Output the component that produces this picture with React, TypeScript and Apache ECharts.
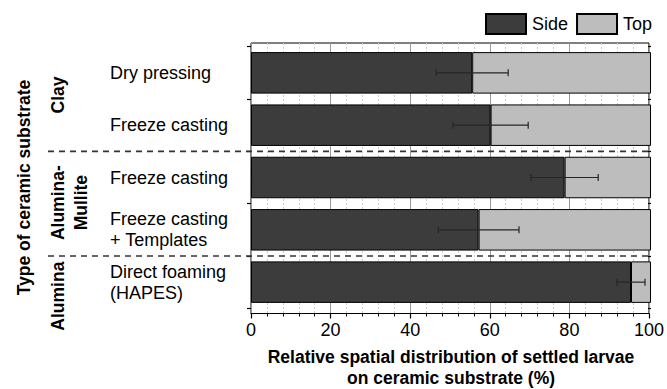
import React, { useEffect, useRef } from "react";
import * as echarts from "echarts";

const categories = [
  "Dry pressing",
  "Freeze casting",
  "Freeze casting",
  "Freeze casting\n+ Templates",
  "Direct foaming\n(HAPES)",
];
const sideValues = [55.3, 59.9, 78.4, 56.9, 95.0];
const topValues = [44.7, 40.1, 21.6, 43.1, 5.0];
const sideErrors = [9.0, 9.4, 8.4, 10.1, 3.5];
const groupLabels = ["Clay", "Alumina-\nMullite", "Alumina"];
const groupSizes = [2, 2, 1];
const seriesNames = ["Side", "Top"];
const xTitle = "Relative spatial distribution of settled larvae\non ceramic substrate (%)";
const yTitle = "Type of ceramic substrate";

const FONT = "'Liberation Sans', Arial, sans-serif";

export default function App() {
  const ref = useRef<HTMLDivElement>(null);
  useEffect(() => {
    if (!ref.current) return;
    const chart = echarts.init(ref.current, undefined, { renderer: "svg" });

    const frame = { left: 251, top: 43, width: 400, height: 270.5 };
    const bands = { top: 46.7, height: 261.6 };
    const bandH = bands.height / categories.length;

    const graphics: any[] = [];
    let acc = 0;
    const groupLabelPos = [
      { x: 58, yOff: -4 },
      { x: 69, yOff: -1 },
      { x: 58, yOff: 14 },
    ];
    groupSizes.forEach((n, gi) => {
      const y0 = bands.top + acc * bandH;
      const y1 = bands.top + (acc + n) * bandH;
      graphics.push({
        type: "text",
        x: groupLabelPos[gi].x,
        y: (y0 + y1) / 2 + groupLabelPos[gi].yOff,
        rotation: Math.PI / 2,
        style: {
          text: groupLabels[gi],
          font: `bold 17.5px ${FONT}`,
          fill: "#000",
          align: "center",
          verticalAlign: "middle",
          lineHeight: 23,
        },
      });
      acc += n;
      if (gi < groupSizes.length - 1) {
        graphics.push({
          type: "line",
          z: 50,
          shape: { x1: 48, y1: y1, x2: 651, y2: y1 },
          style: { stroke: "#333", lineWidth: 1.6, lineDash: [6, 5] },
        });
      }
    });
    graphics.push({
      type: "text",
      x: 24,
      y: 187.5,
      rotation: Math.PI / 2,
      style: {
        text: yTitle,
        font: `bold 17.5px ${FONT}`,
        fill: "#000",
        align: "center",
        verticalAlign: "middle",
      },
    });
    graphics.push({
      type: "text",
      x: frame.left + frame.width / 2,
      y: 367.5,
      style: {
        text: xTitle,
        font: `bold 17.5px ${FONT}`,
        fill: "#000",
        align: "center",
        verticalAlign: "middle",
        lineHeight: 21.5,
      },
    });

    const errData = sideValues.map((v, i) => [i, v, sideErrors[i]]);

    chart.setOption({
      animation: false,
      textStyle: { fontFamily: FONT },
      legend: {
        left: 485,
        top: 13,
        itemWidth: 40,
        itemHeight: 20,
        itemGap: 8,
        padding: 0,
        icon: "rect",
        data: seriesNames,
        textStyle: { fontSize: 18, color: "#000", fontFamily: FONT, padding: [0, 0, 0, 1] },
      },
      grid: [
        {
          left: frame.left,
          top: frame.top,
          width: frame.width,
          height: frame.height,
          show: true,
          borderColor: "#000",
          borderWidth: 1,
          backgroundColor: "transparent",
        },
        {
          left: frame.left,
          top: bands.top,
          width: frame.width,
          height: bands.height,
        },
      ],
      xAxis: [
        {
          type: "value",
          gridIndex: 0,
          min: 0,
          max: 100,
          interval: 20,
          axisLine: { show: true, lineStyle: { color: "#000", width: 1 } },
          axisTick: { show: true, inside: false, length: 5, lineStyle: { color: "#000", width: 1.2 } },
          minorTick: { show: true, splitNumber: 5, length: 3, lineStyle: { color: "#000", width: 1 } },
          axisLabel: { fontSize: 18, color: "#000", margin: 7, fontFamily: FONT },
          splitLine: { show: true, lineStyle: { color: "#999", width: 1 } },
          minorSplitLine: { show: true, lineStyle: { color: "#ccc", width: 1, type: [2, 2] } },
        },
        {
          type: "value",
          gridIndex: 1,
          min: 0,
          max: 100,
          show: false,
        },
      ],
      yAxis: [
        { type: "value", gridIndex: 0, show: false },
        {
          type: "category",
          gridIndex: 1,
          inverse: true,
          data: categories,
          axisLine: { show: false },
          axisTick: { show: true, inside: false, length: 4, lineStyle: { color: "#000", width: 1.2 } },
          axisLabel: {
            align: "left",
            margin: 141,
            fontSize: 18,
            color: "#000",
            lineHeight: 21,
            fontFamily: FONT,
          },
        },
        {
          type: "category",
          gridIndex: 1,
          inverse: true,
          data: categories,
          axisLine: { show: false },
          axisTick: { show: true, inside: true, length: 3, lineStyle: { color: "#000", width: 1.2 } },
          axisLabel: { show: false },
        },
      ],
      series: [
        {
          name: seriesNames[0],
          type: "bar",
          xAxisIndex: 1,
          yAxisIndex: 1,
          stack: "total",
          barWidth: 41.5,
          data: sideValues,
          itemStyle: { color: "#3c3c3c", borderColor: "#000", borderWidth: 1 },
          z: 3,
        },
        {
          name: seriesNames[1],
          type: "bar",
          xAxisIndex: 1,
          yAxisIndex: 1,
          stack: "total",
          barWidth: 41.5,
          data: topValues,
          itemStyle: { color: "#bdbdbd", borderColor: "#000", borderWidth: 1 },
          z: 3,
        },
        {
          type: "custom",
          xAxisIndex: 1,
          yAxisIndex: 1,
          data: errData,
          encode: { x: 1, y: 0 },
          z: 10,
          renderItem: (params: any, api: any) => {
            const idx = api.value(0);
            const v = api.value(1);
            const e = api.value(2);
            const lo = api.coord([v - e, idx]);
            const hi = api.coord([v + e, idx]);
            const h = 3.5;
            const style = { stroke: "#262626", lineWidth: 1.2 };
            return {
              type: "group",
              children: [
                { type: "line", shape: { x1: lo[0], y1: lo[1], x2: hi[0], y2: hi[1] }, style },
                { type: "line", shape: { x1: lo[0], y1: lo[1] - h, x2: lo[0], y2: lo[1] + h }, style },
                { type: "line", shape: { x1: hi[0], y1: hi[1] - h, x2: hi[0], y2: hi[1] + h }, style },
              ],
            };
          },
        },
      ],
      graphic: graphics,
    });

    return () => chart.dispose();
  }, []);

  return (
    <div
      ref={ref}
      style={{ position: "fixed", left: 0, top: 0, width: 667, height: 389, background: "#fff" }}
    />
  );
}
